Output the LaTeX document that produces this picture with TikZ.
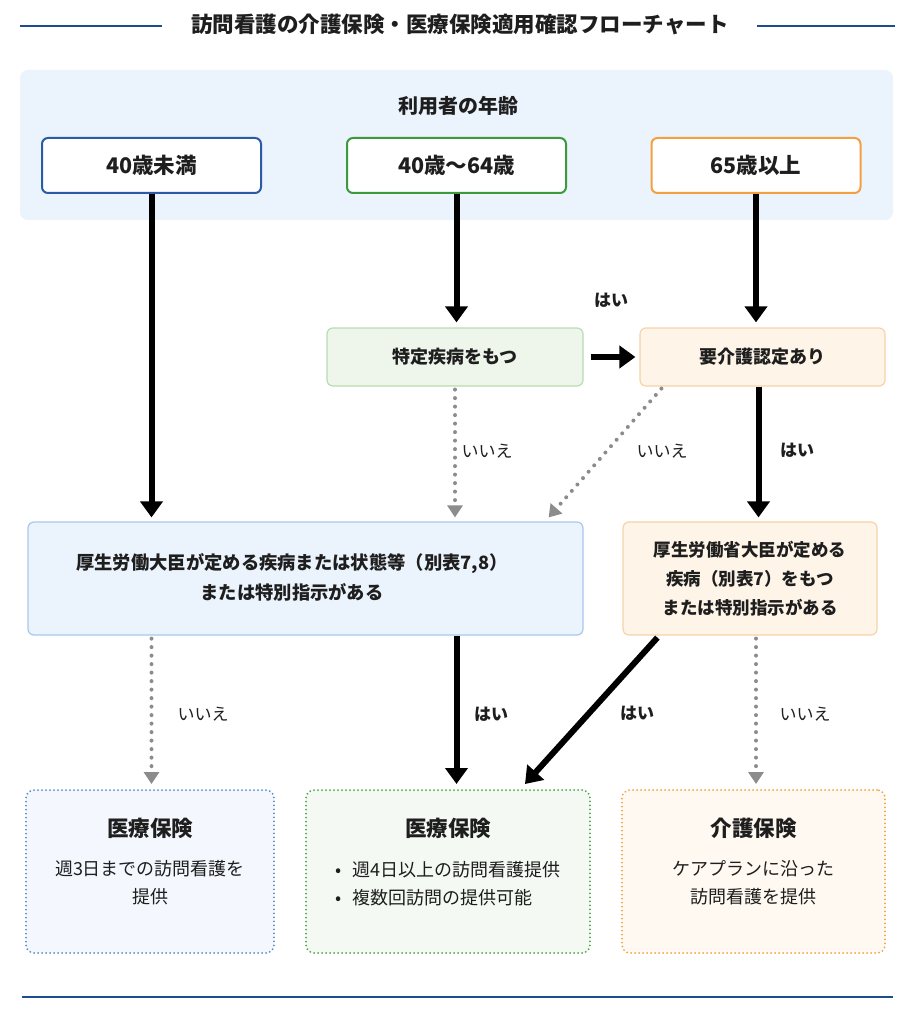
\documentclass[tikz,border=0pt]{standalone}
\usepackage{fontspec}
\setmainfont{Noto Sans CJK JP}
\usetikzlibrary{arrows.meta,calc}
\definecolor{txt}{HTML}{1E1E1E}
\definecolor{titleblue}{HTML}{1F4C8F}
\definecolor{panelbg}{HTML}{EBF3FC}
\definecolor{ageblue}{HTML}{2B5BA8}
\definecolor{agegreen}{HTML}{3C9A3C}
\definecolor{ageorange}{HTML}{F2A040}
\definecolor{gfill}{HTML}{EEF6EC}
\definecolor{gline}{HTML}{B7DDB3}
\definecolor{ofill}{HTML}{FEF4E8}
\definecolor{oline}{HTML}{F6D3A8}
\definecolor{bfill}{HTML}{EBF3FC}
\definecolor{bline}{HTML}{A8C8EB}
\definecolor{r1fill}{HTML}{F4F8FE}
\definecolor{r1line}{HTML}{5A8BCB}
\definecolor{r2fill}{HTML}{F4FAF3}
\definecolor{r2line}{HTML}{4CA64C}
\definecolor{r3fill}{HTML}{FFF9F1}
\definecolor{r3line}{HTML}{F2A444}
\definecolor{nogray}{HTML}{8C8C8C}
\begin{document}
\begin{tikzpicture}[x=1pt,y=-1pt,
  agebox/.style={draw, line width=2pt, fill=white, rounded corners=6pt,
    minimum width=219pt, minimum height=55pt, inner sep=0pt,
    font=\fontsize{21.5}{25}\selectfont\bfseries, text=txt},
  qbox/.style={draw, line width=1.2pt, rounded corners=6pt, minimum height=58pt,
    inner sep=0pt, font=\fontsize{18}{22}\selectfont\bfseries, text=txt, align=center},
  resbox/.style={draw, line width=2pt, dash pattern=on 0pt off 4pt, line cap=round,
    rounded corners=8pt, minimum height=163pt, inner sep=0pt},
  restitle/.style={font=\fontsize{21.5}{25}\selectfont\bfseries, text=txt, inner sep=0pt},
  resbody/.style={font=\fontsize{18}{28}\selectfont, text=txt, align=center, inner sep=0pt},
  yesarrow/.style={line width=6pt, black, -{Triangle[width=22pt,length=16pt]}},
  noarrow/.style={line width=4pt, nogray, dash pattern=on 0pt off 8.5pt, line cap=round,
    -{Triangle[width=15pt,length=12pt]}},
  yeslbl/.style={font=\fontsize{17}{20}\selectfont\bfseries, text=txt},
  nolbl/.style={font=\fontsize{17}{20}\selectfont, text=txt}]
\useasboundingbox (0,0) rectangle (915,1024);
\fill[white] (0,0) rectangle (915,1024);

% title
\node[font=\fontsize{21.5}{24}\selectfont\bfseries, text=txt, inner sep=0pt] (title) at (460,24) {訪問看護の介護保険・医療保険適用確認フローチャート};
\coordinate (tl1) at (20,26);
\coordinate (tl2) at (162,26);
\coordinate (tr1) at (757,26);
\coordinate (tr2) at (895,26);
\draw[titleblue, line width=2.5pt] (tl1) -- (tl2);
\draw[titleblue, line width=2.5pt] (tr1) -- (tr2);

% age panel
\node[fill=panelbg, rounded corners=8pt, minimum width=873pt, minimum height=150pt, inner sep=0pt] (panel) at (456.5,145) {};
\node[font=\fontsize{20}{22}\selectfont\bfseries, text=txt] (agelbl) at (458,106) {利用者の年齢};
\node[agebox, draw=ageblue] (age1) at (151.5,165.5) {40歳未満};
\node[agebox, draw=agegreen] (age2) at (456.5,165.5) {40歳〜64歳};
\node[agebox, draw=ageorange, minimum width=209pt] (age3) at (756,165.5) {65歳以上};

% question boxes
\node[qbox, fill=gfill, draw=gline, minimum width=256pt] (tok) at (455,357) {特定疾病をもつ};
\node[qbox, fill=ofill, draw=oline, minimum width=245pt] (yok) at (762.5,357) {要介護認定あり};
\node[qbox, fill=bfill, draw=bline, minimum width=555pt, minimum height=113pt] (big) at (305.5,578.5) {};
\node[font=\fontsize{18.3}{30}\selectfont\bfseries, text=txt, align=center, inner sep=0pt] (bigtext) at (292,577)
  {厚生労働大臣が定める疾病または状態等（別表7,8）\\または特別指示がある};
\node[qbox, fill=ofill, draw=oline, minimum width=254pt, minimum height=113pt,
  font=\fontsize{17.5}{29}\selectfont\bfseries] (rbox) at (750,578.5)
  {厚生労働省大臣が定める\\疾病（別表7）をもつ\\または特別指示がある};

% result boxes
\node[resbox, draw=r1line, fill=r1fill, minimum width=248pt] (res1) at (150,871.5) {};
\node[resbox, draw=r2line, fill=r2fill, minimum width=284pt] (res2) at (448,871.5) {};
\node[resbox, draw=r3line, fill=r3fill, minimum width=263pt] (res3) at (753.5,871.5) {};
\node[restitle] (res1t) at (150,828) {医療保険};
\node[resbody] (res1b) at (150,883) {週3日までの訪問看護を\\提供};
\node[restitle] (res2t) at (448,828) {医療保険};
\node[resbody, align=left] (res2b) at (448,884) {\makebox[17pt][l]{•}週4日以上の訪問看護提供\\\makebox[17pt][l]{•}複数回訪問の提供可能};
\node[restitle] (res3t) at (753.5,828) {介護保険};
\node[resbody] (res3b) at (753.5,883) {ケアプランに沿った\\訪問看護を提供};

% connectors
\draw[yesarrow, shorten >=4pt] (age1.south) -- (age1.south |- big.north);
\draw[yesarrow, shorten >=5pt] (age2.south) -- (age2.south |- tok.north);
\draw[yesarrow, shorten >=5pt] (age3.south) -- (age3.south |- yok.north);
\draw[yesarrow, shorten <=7pt, shorten >=4pt] (tok.east) -- (yok.west);
\draw[noarrow, shorten <=3pt, shorten >=4pt] (tok.south) -- (tok.south |- big.north);
\draw[noarrow] ($(yok.south west)+(22,2)$) -- ($(big.north east)+(-35,-4)$);
\coordinate (ys) at ($(yok.south)+(-4,0)$);
\draw[yesarrow, shorten >=4pt] (ys) -- (ys |- rbox.north);
\draw[noarrow, shorten <=3pt, shorten >=5pt] (age1.south |- big.south) -- (age1.south |- res1.north);
\draw[yesarrow, shorten >=5pt] (age2.south |- big.south) -- (age2.south |- res2.north);
\draw[yesarrow] ($(rbox.south west)+(35,2)$) -- ($(res2.north east)+(-66,-5)$);
\draw[noarrow, shorten <=3pt, shorten >=5pt] (age3.south |- rbox.south) -- (age3.south |- res3.north);

% labels
\node[yeslbl] (l1) at (611,300) {はい};
\node[nolbl] (l2) at (487,451) {いいえ};
\node[nolbl] (l3) at (662,451) {いいえ};
\node[yeslbl] (l4) at (797,450) {はい};
\node[nolbl] (l5) at (203,714) {いいえ};
\node[yeslbl] (l6) at (491,714) {はい};
\node[yeslbl] (l7) at (637,713) {はい};
\node[nolbl] (l8) at (805,714) {いいえ};

% bottom line
\coordinate (bl1) at (22,997);
\coordinate (bl2) at (893,997);
\draw[titleblue, line width=2.5pt] (bl1) -- (bl2);
\end{tikzpicture}
\end{document}
